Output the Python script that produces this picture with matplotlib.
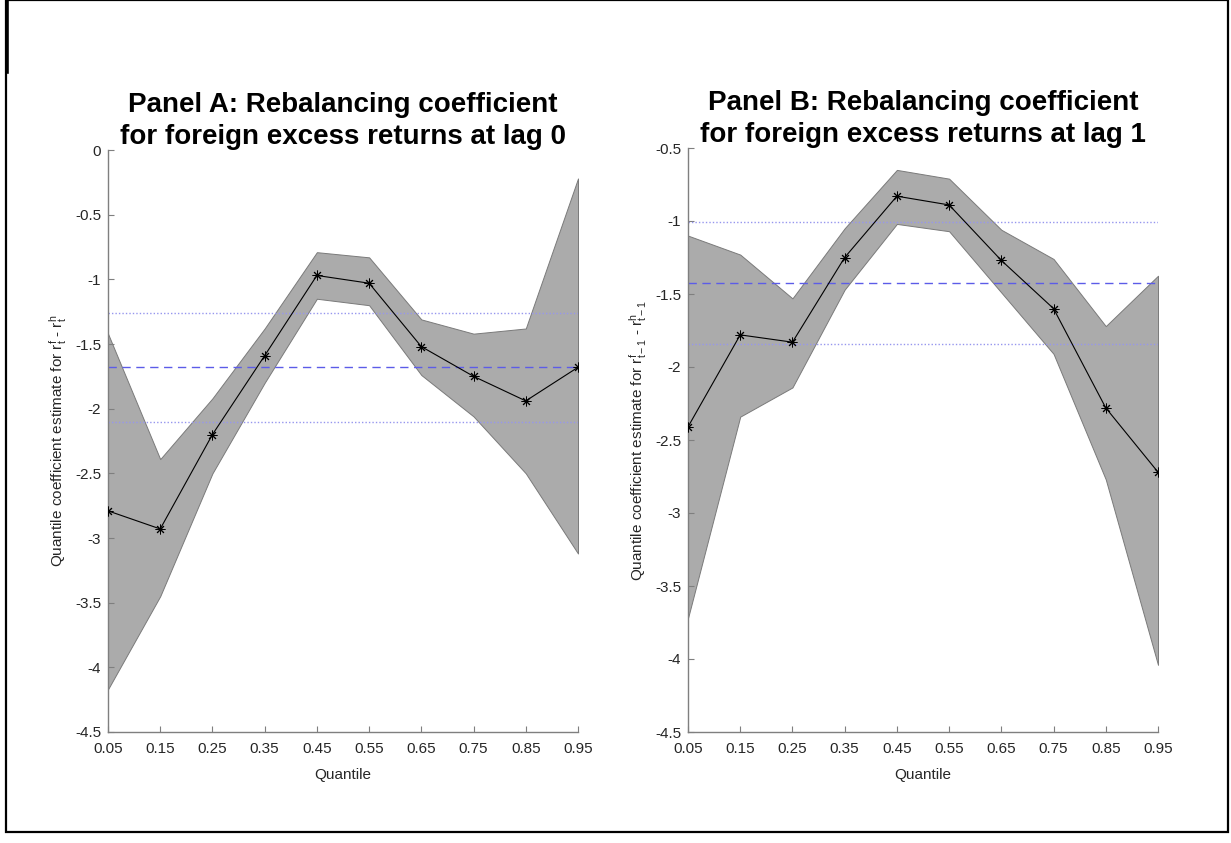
import matplotlib
matplotlib.use("Agg")
import matplotlib.pyplot as plt
from matplotlib.patches import Rectangle
from matplotlib.lines import Line2D
from matplotlib.ticker import FuncFormatter

plt.rcParams['font.family'] = ['Liberation Sans', 'DejaVu Sans']
plt.rcParams['mathtext.fontset'] = 'custom'
plt.rcParams['mathtext.rm'] = 'Liberation Sans'
plt.rcParams['mathtext.it'] = 'Liberation Sans'

quantiles = [0.05, 0.15, 0.25, 0.35, 0.45, 0.55, 0.65, 0.75, 0.85, 0.95]

# Panel A: lag 0
coef_a = [-2.79, -2.93, -2.20, -1.59, -0.97, -1.03, -1.52, -1.75, -1.94, -1.68]
upper_a = [-1.42, -2.39, -1.92, -1.38, -0.79, -0.83, -1.31, -1.42, -1.38, -0.22]
lower_a = [-4.17, -3.45, -2.50, -1.80, -1.15, -1.20, -1.74, -2.06, -2.50, -3.12]
ols_a = -1.68
ols_ci_a = [-1.26, -2.10]

# Panel B: lag 1
coef_b = [-2.41, -1.78, -1.83, -1.25, -0.83, -0.89, -1.27, -1.60, -2.28, -2.72]
upper_b = [-1.10, -1.23, -1.53, -1.05, -0.65, -0.71, -1.06, -1.26, -1.72, -1.375]
lower_b = [-3.72, -2.34, -2.14, -1.47, -1.02, -1.07, -1.49, -1.91, -2.77, -4.04]
ols_b = -1.425
ols_ci_b = [-1.005, -1.845]

titles = ["Panel A: Rebalancing coefficient\nfor foreign excess returns at lag 0",
          "Panel B: Rebalancing coefficient\nfor foreign excess returns at lag 1"]
ylabels = [r"Quantile coefficient estimate for r$^{f}_{t}$ - r$^{h}_{t}$",
           r"Quantile coefficient estimate for r$^{f}_{t-1}$ - r$^{h}_{t-1}$"]
ylims = [(-4.5, 0.0), (-4.5, -0.5)]
xtick_labels = ["0.05", "0.15", "0.25", "0.35", "0.45", "0.55", "0.65", "0.75", "0.85", "0.95"]

W, H = 1231, 843
fig = plt.figure(figsize=(W / 100, H / 100), dpi=100)

# axes boxes in pixels: left, top, right, bottom
boxes = [(108, 150, 578, 732), (688, 148, 1158, 732)]

panels = [(coef_a, upper_a, lower_a, ols_a, ols_ci_a),
          (coef_b, upper_b, lower_b, ols_b, ols_ci_b)]

asterisk = (8, 2, 0)
spine_col = '#7f7f7f'
text_col = '#262626'

for i, (box, data) in enumerate(zip(boxes, panels)):
    l, t, r, b = box
    ax = fig.add_axes([l / W, 1 - b / H, (r - l) / W, (b - t) / H])
    coef, up, lo, ols, ci = data

    ax.fill_between(quantiles, lo, up, facecolor='#ababab', edgecolor='#7a7a7a',
                    linewidth=0.7, zorder=1)
    ax.axhline(ols, color='#5c5ce8', linestyle=(0, (6, 4)), linewidth=1.0, zorder=2)
    for c in ci:
        ax.axhline(c, color='#9696ee', linestyle=(0, (1, 1.5)), linewidth=1.0, zorder=2)
    ax.plot(quantiles, coef, color='black', linewidth=0.8, marker=asterisk,
            markersize=7, markeredgewidth=0.7, zorder=3)

    ax.set_xlim(0.05, 0.95)
    ax.set_ylim(*ylims[i])
    ax.set_xticks(quantiles)
    ax.set_xticklabels(xtick_labels)
    lo_y, hi_y = ylims[i]
    yt = []
    v = lo_y
    while v <= hi_y + 1e-9:
        yt.append(round(v, 2))
        v += 0.5
    ax.set_yticks(yt)
    ax.yaxis.set_major_formatter(FuncFormatter(lambda x, p: f"{x:g}"))

    for s in ['top', 'right']:
        ax.spines[s].set_visible(False)
    for s in ['left', 'bottom']:
        ax.spines[s].set_color(spine_col)
        ax.spines[s].set_linewidth(1.0)
    ax.tick_params(direction='in', length=4, width=0.8, color=spine_col,
                   labelsize=11, labelcolor=text_col, pad=5)
    ax.tick_params(axis='x', pad=7)

    ax.set_title(titles[i], fontsize=20, fontweight='bold', color='black',
                 pad=-3, linespacing=1.3)
    ax.set_xlabel("Quantile", fontsize=11, color=text_col, labelpad=9)
    ax.set_ylabel(ylabels[i], fontsize=11, color=text_col, labelpad=4)

# outer frame
fig.add_artist(Rectangle((6 / W, 1 - 832 / H), (1228 - 6) / W, 832 / H,
                         transform=fig.transFigure, fill=False,
                         edgecolor='black', linewidth=1.6))
fig.add_artist(Line2D([7 / W, 7 / W], [1.0, 1 - 72 / H], transform=fig.transFigure,
                      color='black', linewidth=2.6))

fig.savefig("out.png", dpi=100)
